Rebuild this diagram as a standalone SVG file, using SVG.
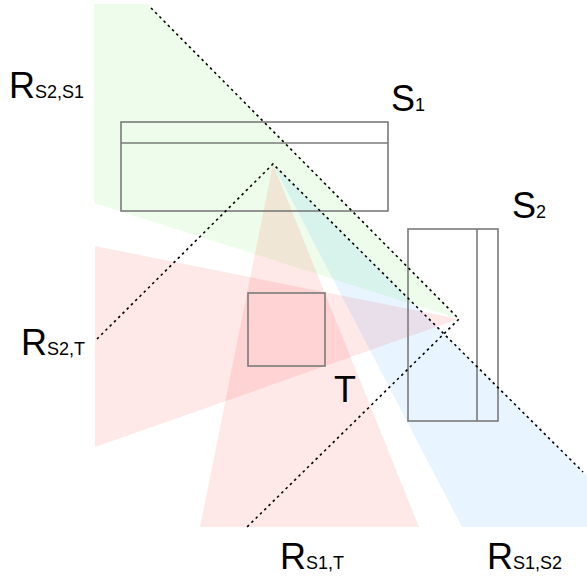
<svg xmlns="http://www.w3.org/2000/svg" width="587" height="581" viewBox="0 0 587 581">
<style>
.reg{stroke:none;fill-opacity:0.09}
.box{fill:none;stroke:#7a7a7a;stroke-width:1.6}
.dot{fill:none;stroke:#000;stroke-width:1.6;stroke-dasharray:2.5 3.5}
.lbl{font-family:"Liberation Sans",Arial,sans-serif;font-size:36px;fill:#000}
.sub{font-size:18px}
</style>
<rect width="587" height="581" fill="#fff"/>
<g id="regions">
<polygon id="R_S2_S1" class="reg" fill="#44ee22" points="94,4 148,4 459,319 94,203"/>
<polygon id="R_S2_T" class="reg" fill="#ff0000" points="459,319 95,246 95,447"/>
<polygon id="R_S1_T" class="reg" fill="#ff0000" points="273,164 200,527 419,527"/>
<polygon id="R_S1_S2" class="reg" fill="#0080ff" points="273,164 462,527 587,527 587,476"/>
</g>
<g id="S1"><rect class="box" x="121" y="122" width="267" height="89"/><line class="box" x1="121" y1="143" x2="388" y2="143"/></g>
<g id="S2"><rect class="box" x="408" y="229" width="90" height="192"/><line class="box" x1="477" y1="229" x2="477" y2="421"/></g>
<g id="T"><rect class="box" x="248" y="293" width="77" height="73"/></g>
<g id="connectors">
<polyline class="dot" points="151,8 459,319 246,528"/>
<polyline class="dot" points="97,339 273,164 583,472"/>
</g>
<g id="labels">
<text class="lbl" x="9" y="98">R<tspan class="sub">S2,S1</tspan></text>
<text class="lbl" x="391" y="111">S<tspan class="sub">1</tspan></text>
<text class="lbl" x="512" y="218">S<tspan class="sub">2</tspan></text>
<text class="lbl" x="21" y="355">R<tspan class="sub">S2,T</tspan></text>
<text class="lbl" x="334" y="402">T</text>
<text class="lbl" x="280" y="569">R<tspan class="sub">S1,T</tspan></text>
<text class="lbl" x="487" y="569">R<tspan class="sub">S1,S2</tspan></text>
</g>
</svg>
